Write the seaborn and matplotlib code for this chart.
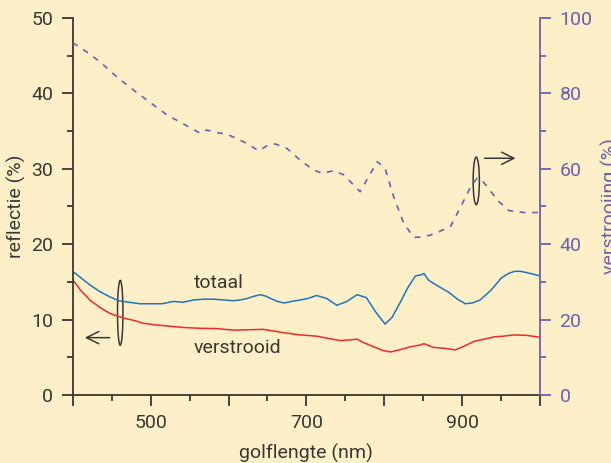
import numpy as np
import pandas as pd
import matplotlib
matplotlib.use("Agg")
import matplotlib.pyplot as plt
from matplotlib.patches import Ellipse
import seaborn as sns

# golflengte (nm) en reflectie (%) van de totale reflectie
totaal_nm = [400, 422, 435, 448, 459, 472, 486, 501, 515, 529, 542, 555, 568, 581, 594,
             606, 615, 624, 633, 641, 648, 654, 663, 671, 681, 692, 702, 713, 726, 739,
             752, 765, 777, 789, 801, 810, 820, 830, 840, 846, 851, 857, 868, 883, 894,
             904, 913, 923, 937, 950, 959, 967, 975, 984, 992, 1000]
totaal_val = [16.4, 14.6, 13.7, 13.0, 12.5, 12.3, 12.1, 12.1, 12.1, 12.4, 12.3, 12.6, 12.7, 12.7, 12.6,
              12.5, 12.6, 12.8, 13.1, 13.3, 13.1, 12.8, 12.4, 12.2, 12.4, 12.6, 12.8, 13.2, 12.8, 11.9,
              12.4, 13.3, 12.9, 11.0, 9.4, 10.3, 12.2, 14.2, 15.8, 15.9, 16.1, 15.2, 14.5, 13.6, 12.7,
              12.1, 12.2, 12.6, 13.9, 15.5, 16.1, 16.4, 16.4, 16.2, 16.0, 15.8]

# verstrooide reflectie (%)
verstr_nm = [400, 410, 422, 435, 448, 465, 478, 491, 506, 521, 542, 564, 585, 606, 625,
             645, 668, 692, 713, 728, 744, 755, 765, 772, 786, 798, 808, 820, 834, 845,
             851, 863, 877, 891, 903, 915, 928, 941, 953, 966, 983, 1000]
verstr_val = [15.3, 13.9, 12.6, 11.6, 10.8, 10.2, 9.9, 9.5, 9.3, 9.15, 8.95, 8.84, 8.8, 8.6, 8.65,
              8.7, 8.3, 7.96, 7.8, 7.5, 7.2, 7.3, 7.4, 7.0, 6.4, 5.9, 5.7, 6.0, 6.4, 6.6,
              6.8, 6.3, 6.2, 5.97, 6.5, 7.1, 7.4, 7.7, 7.8, 7.96, 7.9, 7.65]

# verstrooiing (%) op de rechter as
verstrooiing_nm = [400, 418, 435, 456, 478, 500, 521, 543, 564, 572, 585, 598, 619, 639, 650,
                   660, 675, 692, 709, 720, 735, 748, 769, 780, 791, 801, 812, 825, 838, 848,
                   859, 870, 885, 898, 911, 919, 925, 932, 945, 960, 979, 1000]
verstrooiing_val = [93.5, 91.0, 88.4, 84.5, 80.9, 77.5, 74.3, 71.8, 69.4, 70.3, 69.6, 69.2, 67.2, 64.8, 66.2,
                    66.6, 65.4, 62.3, 59.7, 58.8, 59.5, 58.4, 53.9, 58.0, 61.9, 60.1, 52.6, 45.5, 41.8, 41.9,
                    42.4, 43.3, 44.7, 49.9, 55.3, 57.5, 57.0, 55.3, 51.7, 48.9, 48.4, 48.4]

bg = "#fdf0c9"
ink = "#3a3632"
paars = "#6e5fae"

sns.set_style("ticks")
plt.rcParams["font.family"] = ["Roboto", "DejaVu Sans"]
plt.rcParams["axes.facecolor"] = bg
plt.rcParams["figure.facecolor"] = bg

fig = plt.figure(figsize=(6.11, 4.63), dpi=100)
ax = fig.add_axes([0.119, 0.147, 0.765, 0.814])
ax2 = ax.twinx()

df_t = pd.DataFrame({"nm": totaal_nm, "val": totaal_val})
df_v = pd.DataFrame({"nm": verstr_nm, "val": verstr_val})
df_s = pd.DataFrame({"nm": verstrooiing_nm, "val": verstrooiing_val})

sns.lineplot(data=df_t, x="nm", y="val", ax=ax, color="#1f74c0", linewidth=1.1)
sns.lineplot(data=df_v, x="nm", y="val", ax=ax, color="#ee2a2a", linewidth=1.1)
sns.lineplot(data=df_s, x="nm", y="val", ax=ax2, color=paars, linewidth=1.2,
             dashes=False, linestyle=(0, (3.5, 4)))

ax.set_xlim(400, 1000)
ax.set_ylim(0, 50)
ax2.set_ylim(0, 100)

ax.set_xticks(np.arange(400, 1001, 100))
ax.set_xticklabels(["", "500", "", "700", "", "900", ""])
ax.set_xticks(np.arange(450, 1000, 100), minor=True)
ax.set_yticks(np.arange(0, 51, 10))
ax.set_yticks(np.arange(5, 50, 10), minor=True)
ax2.set_yticks(np.arange(0, 101, 20))
ax2.set_yticks(np.arange(10, 100, 20), minor=True)

for a in (ax, ax2):
    a.spines["top"].set_visible(False)
ax.spines["right"].set_visible(False)
ax2.spines["left"].set_visible(False)
ax2.spines["bottom"].set_visible(False)
for s in ("left", "bottom"):
    ax.spines[s].set_color(ink)
    ax.spines[s].set_linewidth(1.3)
ax2.spines["right"].set_color(paars)
ax2.spines["right"].set_linewidth(1.3)

ax.tick_params(axis="both", which="major", length=8, width=1.3, color=ink,
               labelcolor=ink, labelsize=14, pad=6)
ax.tick_params(axis="both", which="minor", length=4, width=1.3, color=ink)
ax2.tick_params(axis="y", which="major", length=8, width=1.3, color=paars,
                labelcolor=paars, labelsize=14, pad=6)
ax2.tick_params(axis="y", which="minor", length=4, width=1.3, color=paars)

ax.set_xlabel("golflengte (nm)", fontsize=14, color=ink, labelpad=8)
ax.set_ylabel("reflectie (%)", fontsize=14, color=ink, labelpad=4)
ax2.set_ylabel("verstrooiing (%)", fontsize=14, color=paars, labelpad=6)

# annotaties
ax.text(555, 14.8, "totaal", fontsize=14, color=ink, va="center", ha="left")
ax.text(555, 6.2, "verstrooid", fontsize=14, color=ink, va="center", ha="left")
ax.add_patch(Ellipse((461, 10.9), 7, 8.6, fill=False, edgecolor=ink, linewidth=1.1))
ax.annotate("", xy=(412, 7.6), xytext=(451, 7.6),
            arrowprops=dict(arrowstyle="->", color=ink, lw=1.1, mutation_scale=22))
ax.add_patch(Ellipse((918, 28.4), 8, 6.3, fill=False, edgecolor=ink, linewidth=1.1))
ax.annotate("", xy=(972, 31.4), xytext=(925, 31.4),
            arrowprops=dict(arrowstyle="->", color=ink, lw=1.1, mutation_scale=22))

fig.savefig("out.png", dpi=100, facecolor=bg)
